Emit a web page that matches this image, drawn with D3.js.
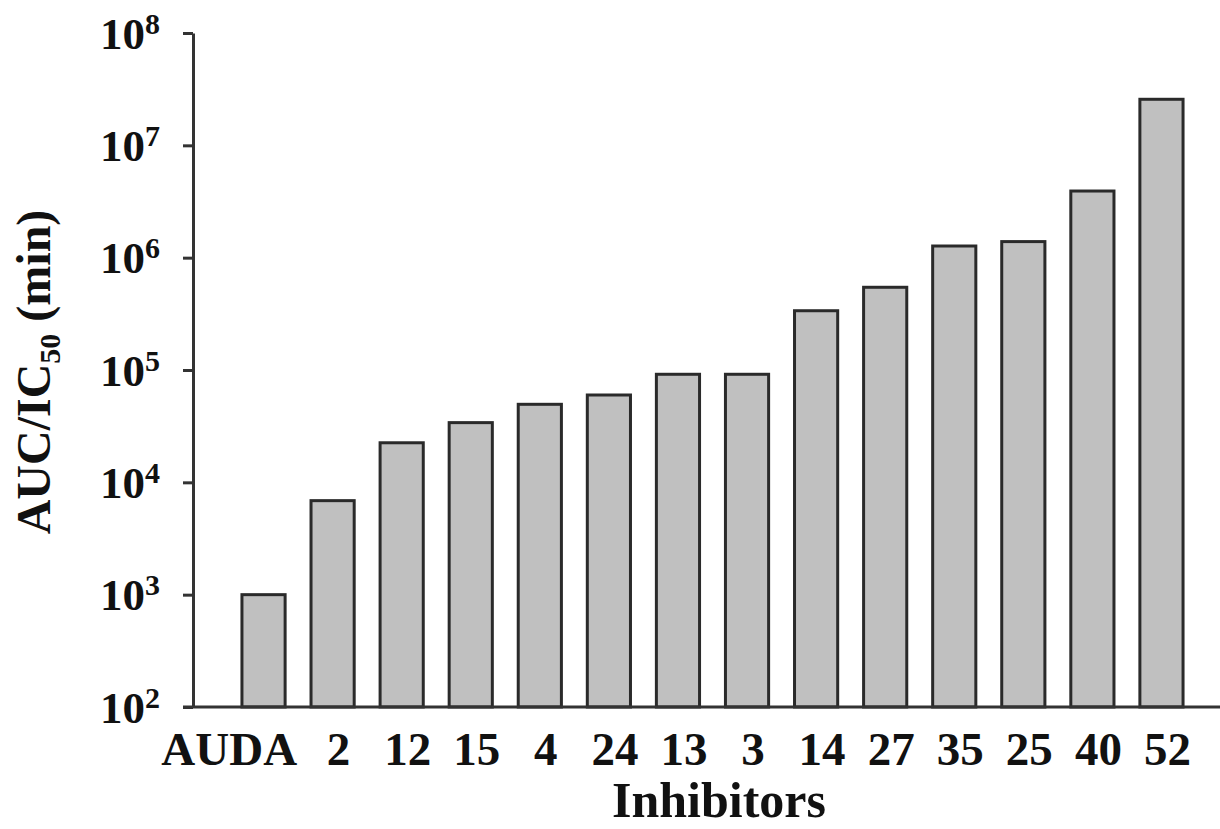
<!DOCTYPE html>
<html>
<head>
<meta charset="utf-8">
<script src="https://cdn.jsdelivr.net/npm/d3@7"></script>
<style>
    body { margin: 0; background: #fff; }
    svg { display: block; }
    text { font-family: "Liberation Serif", "Times New Roman", serif; font-weight: bold; fill: #111; }
</style>
</head>
<body>
<svg id="chart" width="1220" height="829"></svg>
<script>
"use strict";

var inhibitors = ["AUDA", "2", "12", "15", "4", "24", "13", "3", "14", "27", "35", "25", "40", "52"],
    aucIc50 = [1000, 6870, 22500, 34000, 49500, 59900, 91600, 91600, 337000, 545000, 1270000, 1390000, 3920000, 25700000],
    yTickExponents = [2, 3, 4, 5, 6, 7, 8];

var AXIS_COLOR = "#333",
    BAR_FILL = "#c0c0c0",
    BAR_STROKE = "#2a2a2a";

var svg = d3.select("#chart");

var x = d3.scaleBand()
    .domain(inhibitors)
    .range([229, 1196])
    .paddingInner(0.375)
    .paddingOuter(0.1875);

var y = d3.scaleLog()
    .domain([1e2, 1e8])
    .range([707, 33]);

// bars
svg.append("g")
    .selectAll("rect")
    .data(inhibitors)
    .enter().append("rect")
    .attr("x", function (d) { return x(d); })
    .attr("y", function (d, i) { return y(aucIc50[i]); })
    .attr("width", x.bandwidth())
    .attr("height", function (d, i) { return y(1e2) - y(aucIc50[i]); })
    .style("fill", BAR_FILL)
    .style("stroke", BAR_STROKE)
    .style("stroke-width", 3);

// y axis
var yAxis = d3.axisLeft(y)
    .tickValues(yTickExponents.map(function (e) { return Math.pow(10, e); }))
    .tickSizeInner(10)
    .tickSizeOuter(0)
    .tickFormat("");

var gy = svg.append("g")
    .attr("transform", "translate(193,0)")
    .call(yAxis);
gy.select(".domain").style("stroke", AXIS_COLOR).style("stroke-width", 3);
gy.selectAll(".tick line").style("stroke", AXIS_COLOR).style("stroke-width", 3);

gy.selectAll(".tick").each(function (d) {
    var t = d3.select(this).append("text")
        .attr("x", -33)
        .attr("y", 15)
        .attr("text-anchor", "end")
        .style("font-size", "45px");
    t.append("tspan").text("10");
    t.append("tspan")
        .attr("dy", -15)
        .style("font-size", "30px")
        .text(String(Math.round(Math.log10(d))));
});

// x axis
var xAxis = d3.axisBottom(x).tickSize(0);
var gx = svg.append("g")
    .attr("transform", "translate(0,707)")
    .call(xAxis);
gx.select(".domain").remove();
gx.selectAll(".tick text")
    .attr("y", 58)
    .attr("dy", 0)
    .style("font-size", "47px")
    .style("font-family", "'Liberation Serif', 'Times New Roman', serif")
    .style("font-weight", "bold")
    .style("fill", "#111")
    .each(function () {
        var t = d3.select(this),
            w = this.getComputedTextLength();
        if (w > x.step()) {
            // wide label: right-align to the end of its slot
            t.attr("text-anchor", "end").attr("x", x.bandwidth() / 2 + 12);
        } else {
            t.attr("x", 6);
        }
    });

svg.append("line")
    .attr("x1", 183)
    .attr("x2", 1220)
    .attr("y1", y(1e2))
    .attr("y2", y(1e2))
    .style("stroke", AXIS_COLOR)
    .style("stroke-width", 3);

// axis titles
svg.append("text")
    .attr("x", 719)
    .attr("y", 817)
    .attr("text-anchor", "middle")
    .style("font-size", "50px")
    .text("Inhibitors");

var yTitle = svg.append("text")
    .attr("transform", "translate(50,372) rotate(-90)")
    .attr("text-anchor", "middle")
    .style("font-size", "48px");
yTitle.append("tspan").text("AUC/IC");
yTitle.append("tspan").attr("dy", 10).style("font-size", "30px").text("50");
yTitle.append("tspan").attr("dy", -10).text(" (min)");
</script>
</body>
</html>
